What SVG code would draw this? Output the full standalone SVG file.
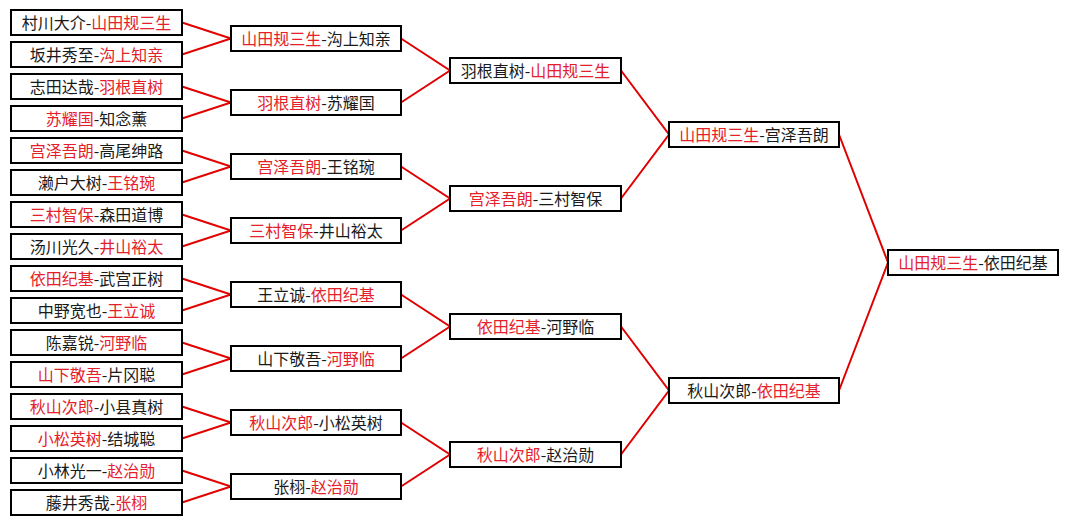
<svg xmlns="http://www.w3.org/2000/svg" width="1068" height="525" viewBox="0 0 1068 525">
<style>
.box{fill:#fff;stroke:#000;stroke-width:2}
.t{font-family:"Noto Sans CJK SC","Noto Sans CJK JP",sans-serif;font-size:16px;fill:#1a1a1a;text-anchor:middle}
.w{fill:#e5202a}
.con{fill:none;stroke:#e00000;stroke-width:2}
</style>
<rect width="1068" height="525" fill="#fff"/>
<g id="connectors">
<path class="con" d="M182,22.5 L231,38.5 L182,54.5"/>
<path class="con" d="M182,86.5 L231,102.5 L182,118.5"/>
<path class="con" d="M182,150.5 L231,166.5 L182,182.5"/>
<path class="con" d="M182,214.5 L231,230.5 L182,246.5"/>
<path class="con" d="M182,278.5 L231,294.5 L182,310.5"/>
<path class="con" d="M182,342.5 L231,358.5 L182,374.5"/>
<path class="con" d="M182,406.5 L231,422.5 L182,438.5"/>
<path class="con" d="M182,470.5 L231,486.5 L182,502.5"/>
<path class="con" d="M401,38.5 L450,70.5 L401,102.5"/>
<path class="con" d="M401,166.5 L450,198.5 L401,230.5"/>
<path class="con" d="M401,294.5 L450,326.5 L401,358.5"/>
<path class="con" d="M401,422.5 L450,454.5 L401,486.5"/>
<path class="con" d="M621,70.5 L669,134.5 L621,198.5"/>
<path class="con" d="M621,326.5 L669,390.5 L621,454.5"/>
<path class="con" d="M839,134.5 L888,262.5 L839,390.5"/>
</g>
<g id="r1-1"><rect class="box" x="11" y="10" width="171" height="25"/><text class="t" x="96.5" y="28.5">村川大介-<tspan class="w">山田规三生</tspan></text></g>
<g id="r1-2"><rect class="box" x="11" y="42" width="171" height="25"/><text class="t" x="96.5" y="60.5">坂井秀至-<tspan class="w">沟上知亲</tspan></text></g>
<g id="r1-3"><rect class="box" x="11" y="74" width="171" height="25"/><text class="t" x="96.5" y="92.5">志田达哉-<tspan class="w">羽根直树</tspan></text></g>
<g id="r1-4"><rect class="box" x="11" y="106" width="171" height="25"/><text class="t" x="96.5" y="124.5"><tspan class="w">苏耀国</tspan>-知念薰</text></g>
<g id="r1-5"><rect class="box" x="11" y="138" width="171" height="25"/><text class="t" x="96.5" y="156.5"><tspan class="w">宫泽吾朗</tspan>-高尾绅路</text></g>
<g id="r1-6"><rect class="box" x="11" y="170" width="171" height="25"/><text class="t" x="96.5" y="188.5">濑户大树-<tspan class="w">王铭琬</tspan></text></g>
<g id="r1-7"><rect class="box" x="11" y="202" width="171" height="25"/><text class="t" x="96.5" y="220.5"><tspan class="w">三村智保</tspan>-森田道博</text></g>
<g id="r1-8"><rect class="box" x="11" y="234" width="171" height="25"/><text class="t" x="96.5" y="252.5">汤川光久-<tspan class="w">井山裕太</tspan></text></g>
<g id="r1-9"><rect class="box" x="11" y="266" width="171" height="25"/><text class="t" x="96.5" y="284.5"><tspan class="w">依田纪基</tspan>-武宫正树</text></g>
<g id="r1-10"><rect class="box" x="11" y="298" width="171" height="25"/><text class="t" x="96.5" y="316.5">中野宽也-<tspan class="w">王立诚</tspan></text></g>
<g id="r1-11"><rect class="box" x="11" y="330" width="171" height="25"/><text class="t" x="96.5" y="348.5">陈嘉锐-<tspan class="w">河野临</tspan></text></g>
<g id="r1-12"><rect class="box" x="11" y="362" width="171" height="25"/><text class="t" x="96.5" y="380.5"><tspan class="w">山下敬吾</tspan>-片冈聪</text></g>
<g id="r1-13"><rect class="box" x="11" y="394" width="171" height="25"/><text class="t" x="96.5" y="412.5"><tspan class="w">秋山次郎</tspan>-小县真树</text></g>
<g id="r1-14"><rect class="box" x="11" y="426" width="171" height="25"/><text class="t" x="96.5" y="444.5"><tspan class="w">小松英树</tspan>-结城聪</text></g>
<g id="r1-15"><rect class="box" x="11" y="458" width="171" height="25"/><text class="t" x="96.5" y="476.5">小林光一-<tspan class="w">赵治勋</tspan></text></g>
<g id="r1-16"><rect class="box" x="11" y="490" width="171" height="25"/><text class="t" x="96.5" y="508.5">藤井秀哉-<tspan class="w">张栩</tspan></text></g>
<g id="r2-1"><rect class="box" x="231" y="26" width="170" height="25"/><text class="t" x="316" y="44.5"><tspan class="w">山田规三生</tspan>-沟上知亲</text></g>
<g id="r2-2"><rect class="box" x="231" y="90" width="170" height="25"/><text class="t" x="316" y="108.5"><tspan class="w">羽根直树</tspan>-苏耀国</text></g>
<g id="r2-3"><rect class="box" x="231" y="154" width="170" height="25"/><text class="t" x="316" y="172.5"><tspan class="w">宫泽吾朗</tspan>-王铭琬</text></g>
<g id="r2-4"><rect class="box" x="231" y="218" width="170" height="25"/><text class="t" x="316" y="236.5"><tspan class="w">三村智保</tspan>-井山裕太</text></g>
<g id="r2-5"><rect class="box" x="231" y="282" width="170" height="25"/><text class="t" x="316" y="300.5">王立诚-<tspan class="w">依田纪基</tspan></text></g>
<g id="r2-6"><rect class="box" x="231" y="346" width="170" height="25"/><text class="t" x="316" y="364.5">山下敬吾-<tspan class="w">河野临</tspan></text></g>
<g id="r2-7"><rect class="box" x="231" y="410" width="170" height="25"/><text class="t" x="316" y="428.5"><tspan class="w">秋山次郎</tspan>-小松英树</text></g>
<g id="r2-8"><rect class="box" x="231" y="474" width="170" height="25"/><text class="t" x="316" y="492.5">张栩-<tspan class="w">赵治勋</tspan></text></g>
<g id="r3-1"><rect class="box" x="450" y="58" width="171" height="25"/><text class="t" x="535.5" y="76.5">羽根直树-<tspan class="w">山田规三生</tspan></text></g>
<g id="r3-2"><rect class="box" x="450" y="186" width="171" height="25"/><text class="t" x="535.5" y="204.5"><tspan class="w">宫泽吾朗</tspan>-三村智保</text></g>
<g id="r3-3"><rect class="box" x="450" y="314" width="171" height="25"/><text class="t" x="535.5" y="332.5"><tspan class="w">依田纪基</tspan>-河野临</text></g>
<g id="r3-4"><rect class="box" x="450" y="442" width="171" height="25"/><text class="t" x="535.5" y="460.5"><tspan class="w">秋山次郎</tspan>-赵治勋</text></g>
<g id="r4-1"><rect class="box" x="669" y="122" width="170" height="25"/><text class="t" x="754" y="140.5"><tspan class="w">山田规三生</tspan>-宫泽吾朗</text></g>
<g id="r4-2"><rect class="box" x="669" y="378" width="170" height="25"/><text class="t" x="754" y="396.5">秋山次郎-<tspan class="w">依田纪基</tspan></text></g>
<g id="final"><rect class="box" x="888" y="250" width="170" height="25"/><text class="t" x="973" y="268.5"><tspan class="w">山田规三生</tspan>-依田纪基</text></g>
</svg>
